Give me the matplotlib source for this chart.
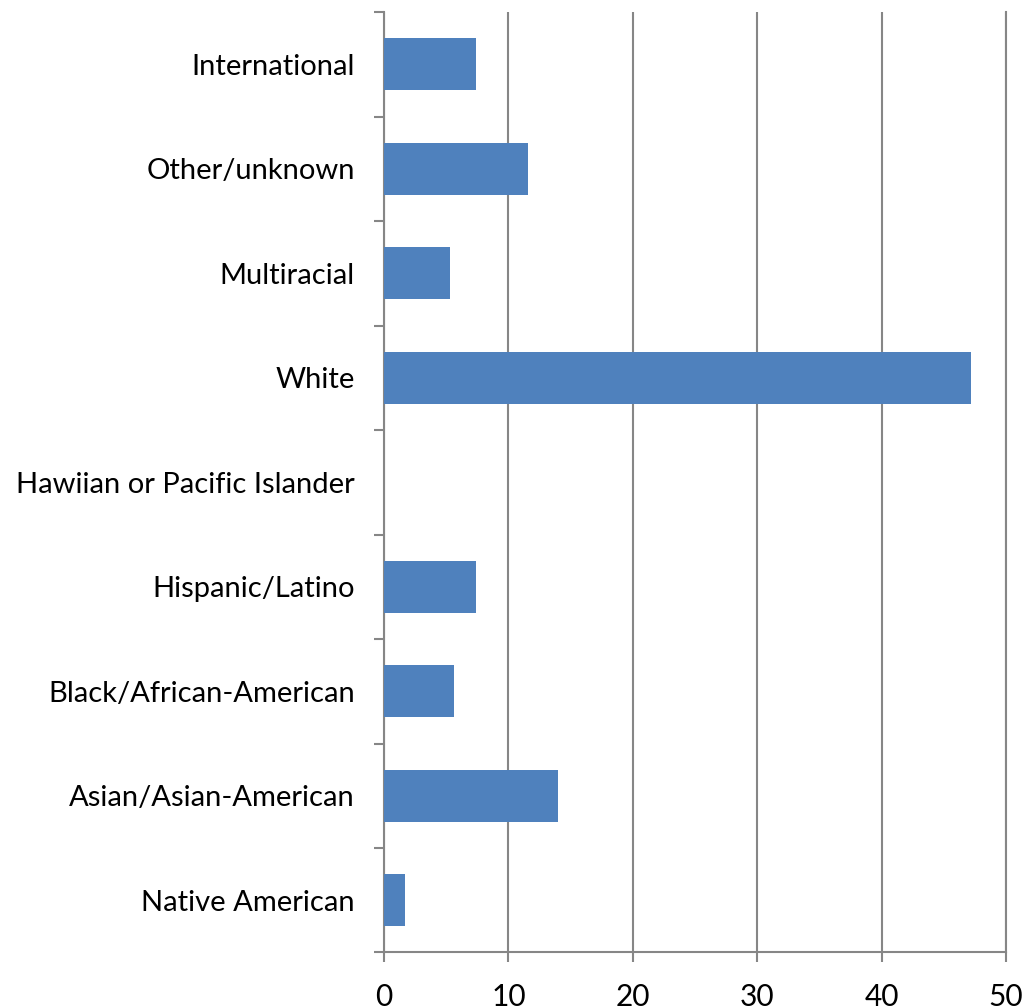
import numpy as np
import matplotlib.pyplot as plt

# categories from bottom to top
categories = ['Native American', 'Asian/Asian-American', 'Black/African-American',
              'Hispanic/Latino', 'Hawiian or Pacific Islander', 'White',
              'Multiracial', 'Other/unknown', 'International']
values = [1.7, 14.0, 5.6, 7.4, 0.0, 47.2, 5.3, 11.6, 7.4]
x_ticks = [0, 10, 20, 30, 40, 50]

plt.rcParams['font.family'] = ['Lato', 'DejaVu Sans']
grey = '#868686'

fig = plt.figure(figsize=(10.27, 10.06), dpi=100)
ax = fig.add_axes([0.374, 0.0532, 0.9796 - 0.374, 0.988 - 0.0532])

pos = np.arange(len(categories))
ax.barh(pos, values, height=0.5, color='#4F81BD', zorder=3)

ax.set_xlim(0, 50)
ax.set_ylim(-0.5, len(categories) - 0.5)
ax.set_xticks(x_ticks)
ax.set_xticklabels([str(t) for t in x_ticks], fontsize=21.5)
ax.set_yticks(pos)
ax.set_yticklabels(categories, fontsize=21)
ax.set_yticks(np.arange(-0.5, len(categories)), minor=True)

ax.grid(axis='x', color=grey, linewidth=1.5, zorder=1)
ax.tick_params(axis='y', which='major', length=0, pad=21)
ax.tick_params(axis='y', which='minor', length=7, width=1.5, color=grey, direction='out')
ax.tick_params(axis='x', which='major', length=7, width=1.5, color=grey, pad=15)

for s in ['left', 'bottom', 'right']:
    ax.spines[s].set_color(grey)
    ax.spines[s].set_linewidth(1.5)
ax.spines['top'].set_visible(False)

fig.savefig('out.png', dpi=100)
